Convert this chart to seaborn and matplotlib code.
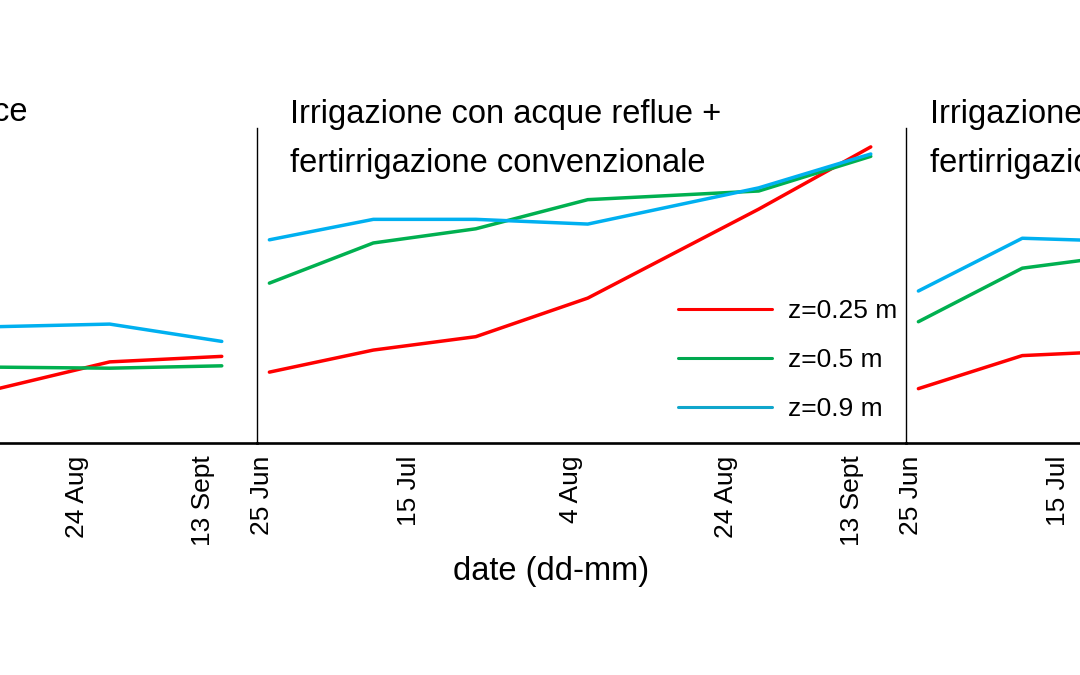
import matplotlib
matplotlib.use("Agg")
import matplotlib.pyplot as plt
import numpy as np
import pandas as pd
import seaborn as sns

# ---------------- data ----------------
# sampling dates, in days after 25 June
sample_day = [1.0, 15.1, 29.0, 44.2, 67.4, 82.6]
tick_pos = [0.0, 19.9, 41.9, 62.9, 80.0]
tick_labels = ["25 Jun", "15 Jul", "4 Aug", "24 Aug", "13 Sept"]

depths = ["z=0.25 m", "z=0.5 m", "z=0.9 m"]
colors = ["#FF0000", "#00B050", "#00B0F0"]
legend_colors = ["#FF0000", "#00A84F", "#10A6CC"]

# panel 1 (only the last three samplings are visible)
p1_idx = [3, 4, 5]
p1_z025 = [5.1, 10.3, 11.0]
p1_z05 = [9.7, 9.5, 9.8]
p1_z09 = [14.6, 15.1, 12.9]

# panel 2
p2_idx = [0, 1, 2, 3, 4, 5]
p2_z025 = [9.0, 11.8, 13.5, 18.4, 29.7, 37.6]
p2_z05 = [20.3, 25.4, 27.2, 30.9, 32.0, 36.4]
p2_z09 = [25.8, 28.4, 28.4, 27.8, 32.4, 36.7]

# panel 3 (only the first samplings are visible)
p3_idx = [0, 1, 2]
p3_z025 = [6.9, 11.1, 11.7]
p3_z05 = [15.4, 22.2, 23.9]
p3_z09 = [19.3, 26.0, 25.6]

# tick labels visible in each panel of the cropped figure
p_ticks = [[3, 4], [0, 1, 2, 3, 4], [0, 1]]

titles = [
    ["Irrigazione con acqua dolce"],
    ["Irrigazione con acque reflue +", "fertirrigazione convenzionale"],
    ["Irrigazione con acque reflue +", "fertirrigazione organica"],
]

# ---------------- style ----------------
sns.set_style("white")
plt.rcParams["font.family"] = ["Liberation Sans", "DejaVu Sans"]
plt.rcParams["text.color"] = "black"
plt.rcParams["xtick.color"] = "black"
plt.rcParams["xtick.labelcolor"] = "black"

W, H = 1080, 675
fig = plt.figure(figsize=(W / 100, H / 100), dpi=100)

panel_left_px = [-392, 257, 906]
panel_w_px = 649
ax_bottom_px = 443
ax_top_px = 128


def make_df(idx, a, b, c):
    rows = []
    for name, vals in zip(depths, [a, b, c]):
        for i, v in zip(idx, vals):
            rows.append({"day": sample_day[i], "value": v, "depth": name})
    return pd.DataFrame(rows)


panels = [
    make_df(p1_idx, p1_z025, p1_z05, p1_z09),
    make_df(p2_idx, p2_z025, p2_z05, p2_z09),
    make_df(p3_idx, p3_z025, p3_z05, p3_z09),
]

palette = dict(zip(depths, colors))
axes = []
for k, df in enumerate(panels):
    ax = fig.add_axes([
        panel_left_px[k] / W,
        (H - ax_bottom_px) / H,
        panel_w_px / W,
        (ax_bottom_px - ax_top_px) / H,
    ])
    ax.patch.set_alpha(0)
    sns.lineplot(data=df, x="day", y="value", hue="depth", hue_order=depths,
                 palette=palette, linewidth=2.5, ax=ax, legend=(k == 1))
    ax.set_xlim(-0.68, 87.38)
    ax.set_ylim(0, 40)
    ax.set_xticks([tick_pos[i] for i in p_ticks[k]])
    ax.set_xticklabels([tick_labels[i] for i in p_ticks[k]], rotation=90,
                       fontsize=19, color="black")
    ax.tick_params(axis="x", length=0, pad=9)
    ax.set_yticks([])
    ax.set_xlabel("")
    ax.set_ylabel("")
    for s in ["top", "right"]:
        ax.spines[s].set_visible(False)
    ax.spines["left"].set_color("black")
    ax.spines["left"].set_linewidth(1.0)
    ax.spines["bottom"].set_color("black")
    ax.spines["bottom"].set_linewidth(1.9)
    axes.append(ax)

# legend in middle panel
ax = axes[1]
handles, labels = ax.get_legend_handles_labels()
leg = ax.legend(handles, labels, frameon=False, fontsize=19,
                handlelength=3.56, handletextpad=0.6, labelspacing=0.95,
                borderpad=0, borderaxespad=0, loc="upper left",
                bbox_to_anchor=(678 / W, 1 - 299 / H),
                bbox_transform=fig.transFigure)
for h, c in zip(leg.get_lines(), legend_colors):
    h.set_linewidth(2.2)
    h.set_color(c)
for t in leg.get_texts():
    t.set_color("black")

# panel titles
fs_title = 23.5
fig.text(28 / W, 1 - 121 / H, titles[0][0], fontsize=fs_title,
         ha="right", va="baseline", color="black")
for k, x0 in [(1, 290), (2, 930)]:
    fig.text(x0 / W, 1 - 122.7 / H, titles[k][0], fontsize=fs_title,
             ha="left", va="baseline", color="black")
    fig.text(x0 / W, 1 - 172.3 / H, titles[k][1], fontsize=fs_title,
             ha="left", va="baseline", color="black")

# x label
fig.text(551 / W, 1 - 580 / H, "date (dd-mm)", fontsize=23.5,
         ha="center", va="baseline", color="black")

fig.savefig("out.png", dpi=100)
